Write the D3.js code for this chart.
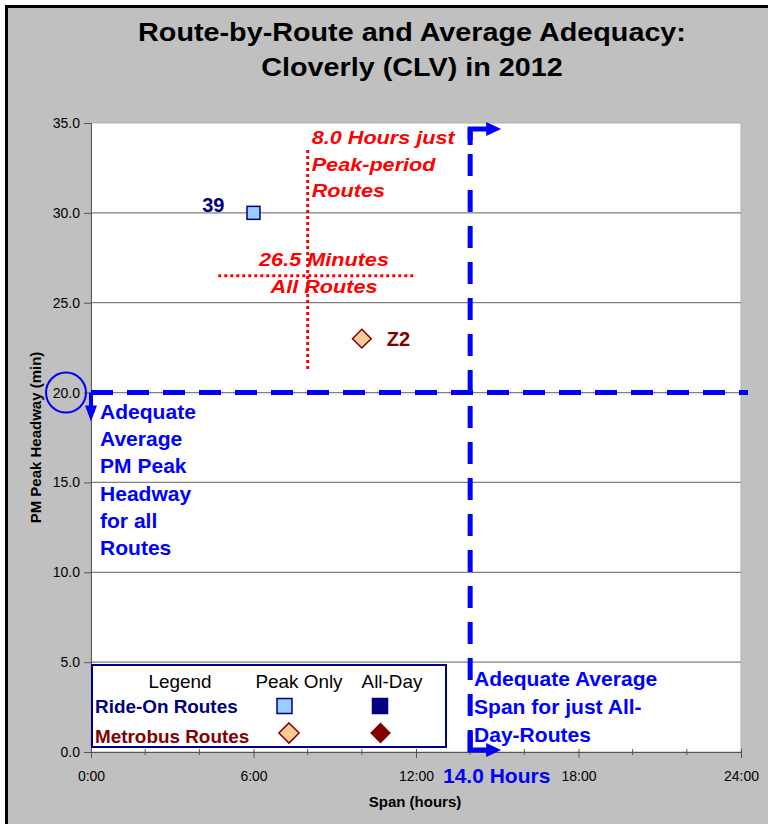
<!DOCTYPE html>
<html>
<head>
<meta charset="utf-8">
<script src="https://cdn.jsdelivr.net/npm/d3@7"></script>
<style>
  body { margin: 0; background: #fff; }
  svg text { font-family: "Liberation Sans", Arial, sans-serif; }
</style>
</head>
<body>
<svg id="chart" width="768" height="824"></svg>
<script>
// route data (span in hours, pm peak headway in minutes)
var routeNames = ['39', 'Z2'];
var routeSpans = [6.0, 10.0];
var routeHeadways = [30.0, 23.0];
var routeOperators = ['rideon', 'metrobus'];
var routeService = ['peak', 'peak'];

// averages and thresholds
var avgPeakSpan = 8.0;
var avgPeakSpanRange = [21.2, 33.5];   // headway extent of the red marker
var avgHeadway = 26.5;
var avgHeadwayRange = [4.7, 11.9];     // span extent of the red marker
var adequateHeadway = 20.0;
var adequateSpan = 14.0;

var xTicks = [0, 6, 12, 18, 24];
var xTickLabels = ['0:00', '6:00', '12:00', '18:00', '24:00'];
var xMinorTicks = [2, 4, 8, 10, 14, 16, 20, 22];
var yTicks = [0, 5, 10, 15, 20, 25, 30, 35];

var colors = {
  rideon: { peak: '#99ccff', allday: '#000080', stroke: '#000080', text: '#000080' },
  metrobus: { peak: '#ffcc99', allday: '#800000', stroke: '#800000', text: '#800000' }
};
var blue = '#0000ff';
var red = '#ff0000';

var svg = d3.select('#chart');
var plotL = 91, plotR = 741, plotT = 123, plotB = 752;

var x = d3.scaleLinear().domain([0, 24]).range([plotL, plotR]);
var y = d3.scaleLinear().domain([0, 35]).range([plotB, plotT]);

// text helper, the original fonts are a little wider than Arial
function label(g, px, py, txt, o) {
  o = o || {};
  var t = g.append('text')
    .attr('transform', 'translate(' + px + ',' + py + ') scale(' + (o.sx || 1) + ',1)')
    .attr('text-anchor', o.anchor || 'start')
    .attr('font-size', o.size || 14)
    .attr('font-weight', o.bold ? 'bold' : 'normal')
    .attr('font-style', o.italic ? 'italic' : 'normal')
    .attr('fill', o.color || '#000')
    .text(txt);
  return t;
}

// frame
svg.append('rect').attr('x', 8).attr('y', 8).attr('width', 760).attr('height', 816).attr('fill', '#c0c0c0');
svg.append('line').attr('x1', 6.5).attr('x2', 6.5).attr('y1', 5).attr('y2', 824).attr('stroke', '#000').attr('stroke-width', 3);
svg.append('line').attr('x1', 5).attr('x2', 768).attr('y1', 6.5).attr('y2', 6.5).attr('stroke', '#000').attr('stroke-width', 3);

// title
label(svg, 412, 41, 'Route-by-Route and Average Adequacy:', { size: 25, bold: true, anchor: 'middle', sx: 1.15 });
label(svg, 412, 76, 'Cloverly (CLV) in 2012', { size: 25, bold: true, anchor: 'middle', sx: 1.15 });

// plot area
svg.append('rect').attr('x', plotL).attr('y', plotT).attr('width', plotR - plotL).attr('height', plotB - plotT)
  .attr('fill', '#fff').attr('stroke', '#b0b0b0').attr('stroke-width', 1);

svg.append('g').selectAll('line').data(yTicks.filter(function(d) { return d > 0 && d < 35; }))
  .enter().append('line')
  .attr('x1', plotL).attr('x2', plotR)
  .attr('y1', function(d) { return y(d); }).attr('y2', function(d) { return y(d); })
  .attr('stroke', '#808080').attr('stroke-width', 1.2);

// y axis
var yAxis = d3.axisLeft(y).tickValues(yTicks).tickSize(7).tickPadding(4)
  .tickFormat(function(d) { return d3.format('.1f')(d); });
var yg = svg.append('g').attr('transform', 'translate(' + plotL + ',0)').call(yAxis);
yg.select('.domain').attr('stroke', '#555');
yg.selectAll('.tick line').attr('stroke', '#555');
yg.selectAll('.tick text').attr('font-size', 14).attr('fill', '#000')
  .attr('font-family', '"Liberation Sans", Arial, sans-serif');

// x axis
var xAxis = d3.axisBottom(x).tickValues(xTicks).tickSize(6).tickPadding(13)
  .tickFormat(function(d, i) { return xTickLabels[i]; });
var xg = svg.append('g').attr('transform', 'translate(0,' + plotB + ')').call(xAxis);
xg.select('.domain').attr('stroke', '#555');
xg.selectAll('.tick line').attr('stroke', '#555').attr('y1', -3);
xg.selectAll('.tick text').attr('font-size', 14).attr('fill', '#000')
  .attr('font-family', '"Liberation Sans", Arial, sans-serif');
xg.selectAll('.minor').data(xMinorTicks).enter().append('line')
  .attr('x1', function(d) { return x(d); }).attr('x2', function(d) { return x(d); })
  .attr('y1', -3).attr('y2', 3).attr('stroke', '#555');

// axis titles
label(svg, 415, 807, 'Span (hours)', { size: 15, bold: true, anchor: 'middle' });
svg.append('text').attr('transform', 'translate(41,' + ((plotT + plotB) / 2) + ') rotate(-90)')
  .attr('text-anchor', 'middle').attr('font-size', 15).attr('font-weight', 'bold')
  .text('PM Peak Headway (min)');

// red average markers
svg.append('line')
  .attr('x1', x(avgPeakSpan)).attr('x2', x(avgPeakSpan))
  .attr('y1', y(avgPeakSpanRange[1])).attr('y2', y(avgPeakSpanRange[0]))
  .attr('stroke', red).attr('stroke-width', 3).attr('stroke-dasharray', '3,3');
svg.append('line')
  .attr('x1', x(avgHeadwayRange[0])).attr('x2', x(avgHeadwayRange[1]))
  .attr('y1', y(avgHeadway)).attr('y2', y(avgHeadway))
  .attr('stroke', red).attr('stroke-width', 3).attr('stroke-dasharray', '3,3');

var redOpts = { size: 18.5, bold: true, italic: true, color: red, sx: 1.17 };
['8.0 Hours just', 'Peak-period', 'Routes'].forEach(function(t, i) {
  label(svg, x(avgPeakSpan) + 4, 144 + i * 26.5, t, redOpts);
});
['26.5 Minutes', 'All Routes'].forEach(function(t, i) {
  label(svg, 324, 266 + i * 27, t, Object.assign({ anchor: 'middle' }, redOpts));
});

// blue adequacy lines
svg.append('line')
  .attr('x1', x(0)).attr('x2', x(24) + 7)
  .attr('y1', y(adequateHeadway)).attr('y2', y(adequateHeadway))
  .attr('stroke', blue).attr('stroke-width', 5).attr('stroke-dasharray', '22,14');
svg.append('line')
  .attr('x1', x(adequateSpan)).attr('x2', x(adequateSpan))
  .attr('y1', y(0)).attr('y2', plotT + 5)
  .attr('stroke', blue).attr('stroke-width', 5).attr('stroke-dasharray', '22,14');

// arrows
var ax = x(adequateSpan), ay = y(adequateHeadway);
svg.append('path').attr('d', 'M' + x(0) + ',' + ay + 'V' + (ay + 14))
  .attr('stroke', blue).attr('stroke-width', 4).attr('fill', 'none');
svg.append('path').attr('d', 'M' + (x(0) - 6) + ',' + (ay + 13) + 'L' + (x(0) + 6) + ',' + (ay + 13) + 'L' + x(0) + ',' + (ay + 29) + 'Z')
  .attr('fill', blue);
svg.append('path').attr('d', 'M' + ax + ',' + (plotT + 22) + 'V' + (plotT + 6) + 'H' + (ax + 18))
  .attr('stroke', blue).attr('stroke-width', 5).attr('fill', 'none');
svg.append('path').attr('d', 'M' + (ax + 16) + ',' + (plotT - 1) + 'L' + (ax + 31) + ',' + (plotT + 6) + 'L' + (ax + 16) + ',' + (plotT + 13) + 'Z')
  .attr('fill', blue);
svg.append('path').attr('d', 'M' + ax + ',' + (plotB - 20) + 'V' + (plotB - 2) + 'H' + (ax + 18))
  .attr('stroke', blue).attr('stroke-width', 5).attr('fill', 'none');
svg.append('path').attr('d', 'M' + (ax + 16) + ',' + (plotB - 9) + 'L' + (ax + 31) + ',' + (plotB - 2) + 'L' + (ax + 16) + ',' + (plotB + 5) + 'Z')
  .attr('fill', blue);

svg.append('circle').attr('cx', 66).attr('cy', y(adequateHeadway)).attr('r', 20)
  .attr('fill', 'none').attr('stroke', blue).attr('stroke-width', 2);

var blueOpts = { size: 19.5, bold: true, color: blue, sx: 1.08 };
['Adequate', 'Average', 'PM Peak', 'Headway', 'for all', 'Routes'].forEach(function(t, i) {
  label(svg, 100, 419 + i * 27.2, t, blueOpts);
});
['Adequate Average', 'Span for just All-', 'Day-Routes'].forEach(function(t, i) {
  label(svg, 474, 686 + i * 28, t, blueOpts);
});
label(svg, 443, 783, '14.0 Hours', { size: 21, bold: true, color: blue });

// markers
function marker(g, operator, service, cx, cy, size) {
  var c = colors[operator];
  var fill = service === 'peak' ? c.peak : c.allday;
  if (operator === 'rideon') {
    g.append('rect').attr('x', cx - size / 2).attr('y', cy - size / 2).attr('width', size).attr('height', size)
      .attr('fill', fill).attr('stroke', c.stroke).attr('stroke-width', 1.5);
  } else {
    var h = size * 0.72;
    g.append('path').attr('d', 'M' + cx + ',' + (cy - h) + 'L' + (cx + h) + ',' + cy + 'L' + cx + ',' + (cy + h) + 'L' + (cx - h) + ',' + cy + 'Z')
      .attr('fill', fill).attr('stroke', c.stroke).attr('stroke-width', 1.5);
  }
}

var points = svg.append('g');
routeNames.forEach(function(name, i) {
  var px = x(routeSpans[i]), py = y(routeHeadways[i]);
  marker(points, routeOperators[i], routeService[i], px, py, 13);
  var isRideOn = routeOperators[i] === 'rideon';
  label(points, isRideOn ? px - 29 : px + 25, isRideOn ? py - 1 : py + 7, name,
    { size: 20, bold: true, color: colors[routeOperators[i]].text, anchor: isRideOn ? 'end' : 'start' });
});

// legend
var lg = svg.append('g');
lg.append('rect').attr('x', 92).attr('y', 665).attr('width', 354).attr('height', 82)
  .attr('fill', '#fff').attr('stroke', '#000080').attr('stroke-width', 2);
label(lg, 180, 688, 'Legend', { size: 18, anchor: 'middle', sx: 1.05 });
label(lg, 299, 688, 'Peak Only', { size: 18, anchor: 'middle', sx: 1.05 });
label(lg, 392, 688, 'All-Day', { size: 18, anchor: 'middle', sx: 1.05 });
label(lg, 95, 713, 'Ride-On Routes', { size: 18, bold: true, color: colors.rideon.text, sx: 1.05 });
label(lg, 95, 743, 'Metrobus Routes', { size: 18, bold: true, color: colors.metrobus.text, sx: 1.05 });
marker(lg, 'rideon', 'peak', 284.5, 706, 15);
marker(lg, 'rideon', 'allday', 380, 706, 15);
marker(lg, 'metrobus', 'peak', 289, 733, 14);
marker(lg, 'metrobus', 'allday', 380.5, 733, 13);
</script>
</body>
</html>
